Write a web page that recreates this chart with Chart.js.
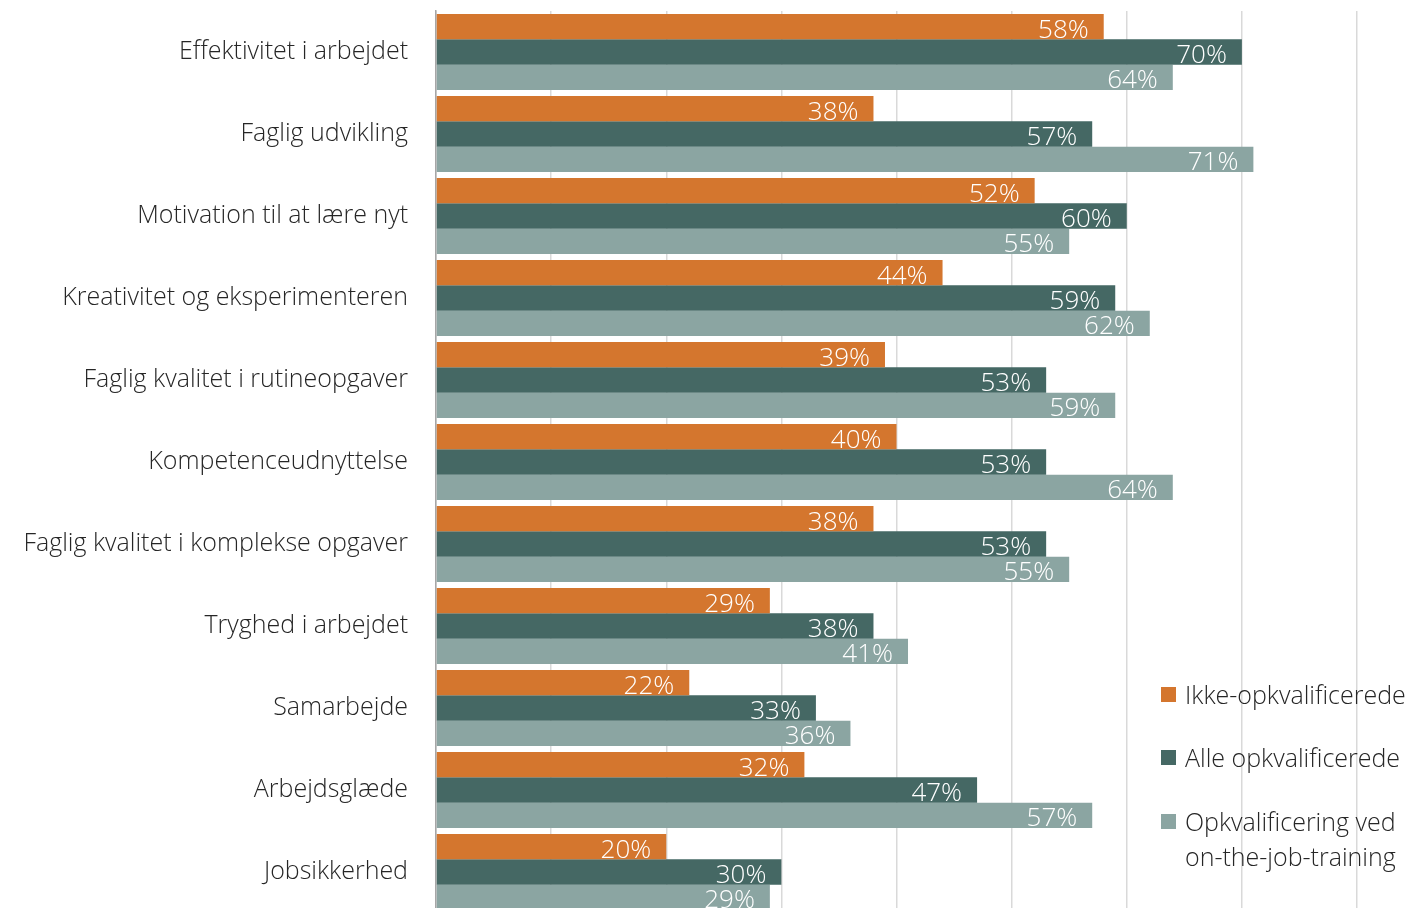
<!DOCTYPE html>
<html lang="da">
<head>
<meta charset="utf-8">
<title>Effekter af opkvalificering</title>
<script src="https://cdn.jsdelivr.net/npm/chart.js@4.4.1/dist/chart.umd.min.js"></script>
<style>
  html, body { margin: 0; padding: 0; background: #ffffff; overflow: hidden; }
  #wrap { position: absolute; left: 0; top: 0; width: 1407px; height: 916px; }
  #legend { position: absolute; left: 0; top: 0; width: 1407px; height: 908px; pointer-events: none;
            font-family: "Open Sans", "Segoe UI", sans-serif; font-weight: 300; font-size: 25px; color: #262626; }
  .item { position: absolute; left: 1161px; display: flex; align-items: flex-start; }
  .swatch { width: 15px; height: 15px; margin-top: 10px; margin-right: 9px; flex: none; }
  .label { line-height: 35px; white-space: nowrap; }
</style>
</head>
<body>
<div id="wrap"><canvas id="chart"></canvas></div>
<div id="legend"></div>
<script>
// Categories (top to bottom)
const categories = [
  "Effektivitet i arbejdet",
  "Faglig udvikling",
  "Motivation til at lære nyt",
  "Kreativitet og eksperimenteren",
  "Faglig kvalitet i rutineopgaver",
  "Kompetenceudnyttelse",
  "Faglig kvalitet i komplekse opgaver",
  "Tryghed i arbejdet",
  "Samarbejde",
  "Arbejdsglæde",
  "Jobsikkerhed"
];

// Share of respondents (%) per group
const ikkeOpkvalificerede = [58, 38, 52, 44, 39, 40, 38, 29, 22, 32, 20];
const alleOpkvalificerede = [70, 57, 60, 59, 53, 53, 53, 38, 33, 47, 30];
const onTheJobTraining    = [64, 71, 55, 62, 59, 64, 55, 41, 36, 57, 29];

const seriesNames = [
  "Ikke-opkvalificerede",
  "Alle opkvalificerede",
  ["Opkvalificering ved", "on-the-job-training"]
];

const colors = ["#D4762E", "#456864", "#8BA5A2"];
const FONT = '"Open Sans", "Segoe UI", sans-serif';

// White value labels drawn inside the end of each bar
const valueLabels = {
  id: "valueLabels",
  afterDatasetsDraw(chart) {
    const ctx = chart.ctx;
    ctx.save();
    ctx.font = "300 26px " + FONT;
    ctx.fillStyle = "#ffffff";
    ctx.textAlign = "right";
    ctx.textBaseline = "alphabetic";
    chart.data.datasets.forEach((ds, di) => {
      const meta = chart.getDatasetMeta(di);
      meta.data.forEach((bar, i) => {
        ctx.fillText(ds.data[i] + "%", bar.x - 15, bar.y + 11);
      });
    });
    ctx.restore();
  }
};

const chart = new Chart(document.getElementById("chart"), {
  type: "bar",
  data: {
    labels: categories,
    datasets: [
      { label: seriesNames[0], data: ikkeOpkvalificerede, backgroundColor: colors[0] },
      { label: seriesNames[1], data: alleOpkvalificerede, backgroundColor: colors[1] },
      { label: seriesNames[2], data: onTheJobTraining,    backgroundColor: colors[2] }
    ]
  },
  options: {
    indexAxis: "y",
    responsive: true,
    maintainAspectRatio: false,
    animation: false,
    events: [],
    layout: { padding: { top: 11, right: 50, bottom: 3, left: 0 } },
    datasets: {
      bar: { barPercentage: 1.0, categoryPercentage: 0.927, borderWidth: 0 }
    },
    plugins: {
      legend: { display: false },
      tooltip: { enabled: false }
    },
    scales: {
      x: {
        min: 0,
        max: 80,
        ticks: { display: false, stepSize: 10 },
        grid: { color: "#D9D9D9", lineWidth: 1.5, drawTicks: false },
        border: { display: false },
        afterFit(scale) { scale.height = 0; }
      },
      y: {
        ticks: {
          color: "#262626",
          font: { family: FONT, size: 25, weight: 300 },
          padding: 28,
          crossAlign: "near"
        },
        grid: { display: false, drawTicks: false },
        border: { display: true, color: "#A6A6A6", width: 1.5 },
        afterFit(scale) {
          scale.width = 436;
          scale.paddingTop = 0;
          scale.paddingBottom = 0;
        }
      }
    }
  },
  plugins: [valueLabels]
});

// Legend built from the chart's datasets
const legendTops = [677, 740, 804];
const legendEl = document.getElementById("legend");
chart.data.datasets.forEach((ds, i) => {
  const item = document.createElement("div");
  item.className = "item";
  item.style.top = legendTops[i] + "px";
  const sw = document.createElement("div");
  sw.className = "swatch";
  sw.style.background = ds.backgroundColor;
  const lab = document.createElement("div");
  lab.className = "label";
  const lines = Array.isArray(ds.label) ? ds.label : [ds.label];
  lab.innerHTML = lines.map(t => t.replace(/&/g, "&amp;").replace(/</g, "&lt;")).join("<br>");
  item.appendChild(sw);
  item.appendChild(lab);
  legendEl.appendChild(item);
});
</script>
</body>
</html>
